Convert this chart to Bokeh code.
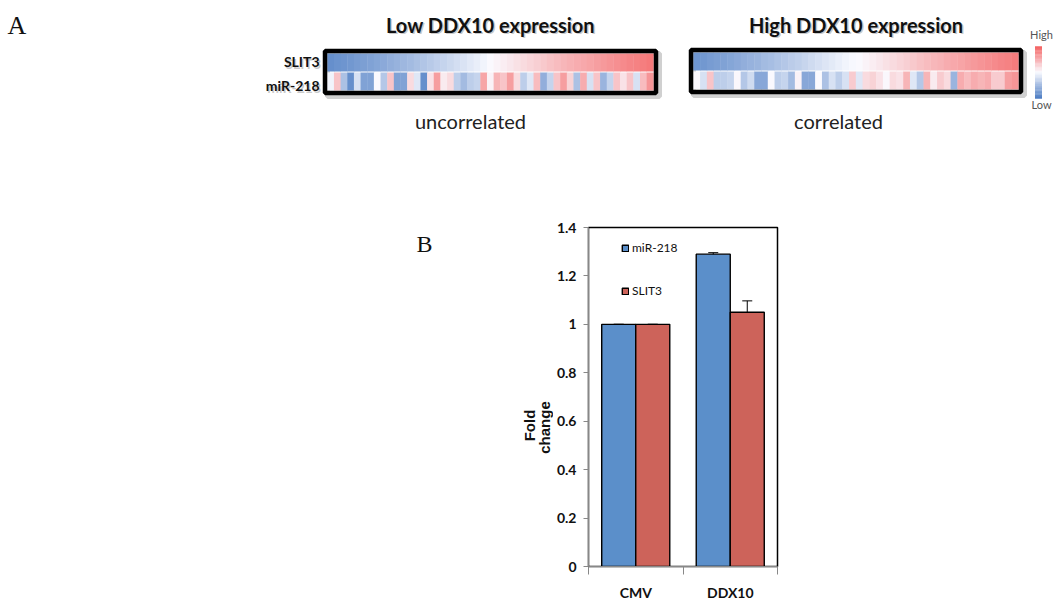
import numpy as np
from bokeh.plotting import figure
from bokeh.models import (Range1d, ColumnDataSource, LinearColorMapper, FixedTicker,
                          CustomJSTickFormatter, Legend, LegendItem, Whisker, TeeHead)
from bokeh.layouts import column, row
from bokeh.transform import transform
from bokeh.core.properties import value
from bokeh.embed import file_html
from bokeh.resources import INLINE

# ---------------- data ----------------
heat_rows = ["SLIT3", "miR-218"]

low_slit3 = [-0.85, -0.82, -0.8, -0.78, -0.75, -0.72, -0.7, -0.67, -0.64, -0.6,
             -0.57, -0.53, -0.5, -0.46, -0.42, -0.38, -0.34, -0.3, -0.26, -0.22,
             -0.18, -0.14, -0.1, -0.05, 0.0, 0.04, 0.08, 0.12, 0.16, 0.2,
             0.24, 0.28, 0.32, 0.36, 0.4, 0.44, 0.47, 0.5, 0.53, 0.56,
             0.6, 0.63, 0.66, 0.69, 0.72, 0.75, 0.78, 0.8, 0.83]
low_mir218 = [-0.05, 0.35, -0.45, -0.85, -0.2, -0.7, -0.7, 0.0, -0.4, 0.35,
              -0.7, -0.7, 0.2, -0.15, -0.85, 0.15, 0.6, 0.1, 0.2, -0.35,
              -0.5, -0.35, -0.3, 0.55, 0.05, 0.45, 0.35, 0.6, 0.2, -0.35,
              -0.15, 0.4, -0.6, -0.3, 0.35, 0.6, 0.25, -0.45, 0.5, -0.2,
              0.35, -0.55, -0.3, 0.35, 0.15, 0.35, -0.2, 0.4, 0.65]

high_slit3 = [-0.8, -0.78, -0.75, -0.72, -0.7, -0.67, -0.64, -0.6, -0.57, -0.54,
              -0.5, -0.47, -0.43, -0.4, -0.36, -0.33, -0.29, -0.25, -0.21, -0.17,
              -0.13, -0.09, -0.05, -0.02, 0.0, 0.04, 0.08, 0.12, 0.16, 0.2,
              0.24, 0.28, 0.32, 0.36, 0.4, 0.43, 0.46, 0.5, 0.53, 0.56,
              0.6, 0.63, 0.66, 0.69, 0.72, 0.75, 0.78, 0.82]
high_mir218 = [0.02, -0.2, 0.35, -0.35, -0.35, -0.3, 0.02, -0.4, -0.25, -0.65,
               -0.65, 0.0, -0.35, -0.3, -0.5, 0.05, -0.65, -0.65, 0.0, -0.45,
               -0.2, -0.35, -0.2, 0.3, -0.15, 0.2, 0.25, 0.15, 0.02, 0.2,
               0.15, 0.45, -0.15, -0.4, 0.45, 0.1, 0.3, 0.2, -0.55, 0.5,
               0.4, 0.5, 0.45, 0.5, 0.3, 0.3, 0.6, 0.65]

conditions = ["CMV", "DDX10"]
mir218_fold = [1.0, 1.29]
mir218_err = [0.0, 0.006]
slit3_fold = [1.0, 1.05]
slit3_err = [0.0, 0.047]
y_ticks = [0, 0.2, 0.4, 0.6, 0.8, 1.0, 1.2, 1.4]

# ---------------- colours ----------------
BLUE = (76, 124, 195)
WHITE = (250, 250, 255)
RED = (244, 96, 96)


def lerp(c1, c2, t):
    return tuple(int(round(a + (b - a) * t)) for a, b in zip(c1, c2))


palette = []
for k in range(256):
    t = k / 255
    c = lerp(BLUE, WHITE, t / 0.5) if t < 0.5 else lerp(WHITE, RED, (t - 0.5) / 0.5)
    palette.append("#%02x%02x%02x" % c)
mapper = LinearColorMapper(palette=palette, low=-1, high=1)

FONT = "Lato"
W = 1053


def canvas(width, height):
    f = figure(width=width, height=height, x_range=Range1d(0, width), y_range=Range1d(height, 0),
               toolbar_location=None, output_backend="svg", min_border=0,
               x_axis_location=None, y_axis_location=None)
    f.grid.visible = False
    f.outline_line_color = None
    f.frame_align = False
    return f


# ---------------- panel A ----------------
H_TOP = 200
top = canvas(W, H_TOP)


def shadow_text(fig, x, y, txt, size, align="center", bold=True, color="#111111"):
    style = "bold" if bold else "normal"
    fig.text(x=[x + 1.5], y=[y + 1.5], text=[txt], text_font=value(FONT), text_font_style=style,
             text_font_size=size, text_align=align, text_baseline="middle",
             text_color="#888888", text_alpha=0.45)
    fig.text(x=[x], y=[y], text=[txt], text_font=value(FONT), text_font_style=style,
             text_font_size=size, text_align=align, text_baseline="middle", text_color=color)


def heatmap(x0, y0, width, row_h, gap, series_list, title, caption, caption_x, labels):
    n = len(series_list[0])
    cw = width / n
    xs, ys, vs = [], [], []
    for r, series in enumerate(series_list):
        for i, v in enumerate(series):
            xs.append(x0 + (i + 0.5) * cw)
            ys.append(y0 + r * (row_h + gap) + row_h / 2)
            vs.append(v)
    src = ColumnDataSource(dict(x=xs, y=ys, v=vs))
    total_h = len(series_list) * row_h + (len(series_list) - 1) * gap
    cx = x0 + width / 2
    cy = y0 + total_h / 2
    top.rect(x=[cx + 3], y=[cy + 3], width=width + 6, height=total_h + 6,
             fill_color=None, line_color="#777777", line_alpha=0.35, line_width=5)
    top.rect("x", "y", width=cw + 0.4, height=row_h, source=src,
             fill_color=transform("v", mapper), line_color=None)
    top.rect(x=[cx], y=[cy], width=width + 5, height=total_h + 5,
             fill_color=None, line_color="black", line_width=4.5)
    shadow_text(top, cx, 24, title, "20px")
    top.text(x=[caption_x], y=[120], text=[caption], text_font=value(FONT),
             text_font_size="20px", text_align="center", text_baseline="middle",
             text_color="#222222")
    if labels:
        for r, name in enumerate(heat_rows):
            shadow_text(top, x0 - 8, y0 + r * (row_h + gap) + row_h / 2 + (-1 if r == 0 else 4),
                        name, "14px", align="right")


heatmap(327, 53, 326, 18, 1, [low_slit3, low_mir218], "Low DDX10 expression",
        "uncorrelated", 470, True)
heatmap(693, 52, 325, 18, 1, [high_slit3, high_mir218], "High DDX10 expression",
        "correlated", 838, False)

# colour key
steps = 40
key_top, key_bot = 46, 98
kh = (key_bot - key_top) / steps
key_vals = [1 - 2 * (k + 0.5) / steps for k in range(steps)]
top.rect(x=[1038] * steps, y=[key_top + (k + 0.5) * kh for k in range(steps)], width=7, height=kh + 0.3,
         fill_color=[palette[int((v + 1) / 2 * 255)] for v in key_vals], line_color=None)
top.text(x=[1041], y=[34], text=["High"], text_font=value(FONT), text_font_size="11px",
         text_align="center", text_baseline="middle", text_color="#555555")
top.text(x=[1041], y=[104], text=["Low"], text_font=value(FONT), text_font_size="11px",
         text_align="center", text_baseline="middle", text_color="#555555")
top.text(x=[7], y=[25], text=["A"], text_font=value("Liberation Serif"), text_font_size="26px",
         text_align="left", text_baseline="middle", text_color="#111111")

# ---------------- panel B ----------------
H_BOT = 403
LEFT_W = 553
left = canvas(LEFT_W, H_BOT)
left.text(x=[424], y=[43], text=["B"], text_font=value("Liberation Serif"), text_font_size="24px",
          text_align="center", text_baseline="middle", text_color="#111111")
left.text(x=[529, 544], y=[225, 227], text=["Fold", "change"], angle=np.pi / 2,
          text_font=value("Liberation Sans"), text_font_style="bold", text_font_size="15px",
          text_align="center", text_baseline="middle", text_color="#111111")

bar = figure(width=W - LEFT_W, height=H_BOT, x_range=Range1d(0, len(conditions)),
             y_range=Range1d(0, 1.4), toolbar_location=None, output_backend="svg",
             min_border_left=35, min_border_right=276, min_border_top=27, min_border_bottom=37)
bar.frame_align = False
bar.grid.visible = False
bar.outline_line_color = "black"
bar.outline_line_width = 1.5

centers = [i + 0.5 for i in range(len(conditions))]
off = 0.18
src = ColumnDataSource(dict(
    x_mir=[c - off for c in centers], x_slit=[c + off for c in centers],
    mir=mir218_fold, slit=slit3_fold,
    mir_up=[v + e for v, e in zip(mir218_fold, mir218_err)],
    mir_lo=[v - e for v, e in zip(mir218_fold, mir218_err)],
    slit_up=[v + e for v, e in zip(slit3_fold, slit3_err)],
    slit_lo=[v - e for v, e in zip(slit3_fold, slit3_err)],
))
r1 = bar.vbar(x="x_mir", top="mir", width=0.36, source=src, fill_color="#5B8FCA",
              line_color="black", line_width=1.4)
r2 = bar.vbar(x="x_slit", top="slit", width=0.36, source=src, fill_color="#CD635A",
              line_color="black", line_width=1.4)
for base, up, lo in (("x_mir", "mir_up", "mir_lo"), ("x_slit", "slit_up", "slit_lo")):
    bar.add_layout(Whisker(source=src, base=base, upper=up, lower=lo, line_color="black",
                           line_width=1,
                           upper_head=TeeHead(size=10, line_color="black", line_width=1),
                           lower_head=TeeHead(size=10, line_color="black", line_width=1)))

ya = bar.yaxis[0]
ya.ticker = FixedTicker(ticks=y_ticks, minor_ticks=[])
ya.formatter = CustomJSTickFormatter(code="return (Math.round(tick*10)/10).toString();")
ya.axis_line_color = "#888888"
ya.major_tick_line_color = "#888888"
ya.major_tick_out = 5
ya.major_tick_in = 0
ya.minor_tick_out = 0
ya.major_label_standoff = 7
ya.major_label_text_font = FONT
ya.major_label_text_font_style = "bold"
ya.major_label_text_font_size = "14px"
ya.major_label_text_color = "#111111"

xa = bar.xaxis[0]
xa.ticker = FixedTicker(ticks=centers, minor_ticks=[float(i) for i in range(len(conditions) + 1)])
xa.formatter = CustomJSTickFormatter(args=dict(labels=conditions),
                                     code="return labels[Math.floor(tick)];")
xa.axis_line_color = "#888888"
xa.major_tick_out = 0
xa.major_tick_in = 0
xa.minor_tick_out = 8
xa.minor_tick_in = 0
xa.minor_tick_line_color = "#888888"
xa.major_label_standoff = 9
xa.major_label_text_font = FONT
xa.major_label_text_font_style = "bold"
xa.major_label_text_font_size = "14px"
xa.major_label_text_color = "#111111"

legend = Legend(items=[LegendItem(label="miR-218", renderers=[r1]),
                       LegendItem(label="SLIT3", renderers=[r2])],
                location=(33, 268), orientation="vertical", padding=0, margin=0,
                spacing=28, glyph_width=8, glyph_height=8, label_height=8,
                label_standoff=3, label_text_font=FONT, label_text_font_size="12px",
                label_text_color="#111111", border_line_color=None, background_fill_alpha=0)
bar.add_layout(legend)

layout = column(top, row(left, bar, spacing=0), spacing=0)
open("out.html", "w").write(file_html(layout, INLINE))
